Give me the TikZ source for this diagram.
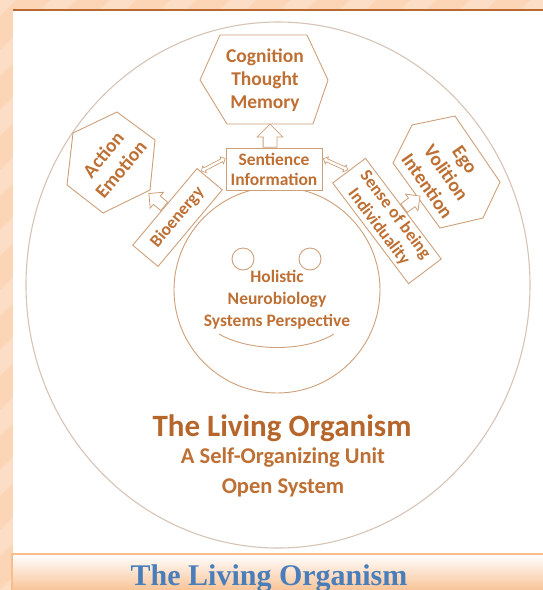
\documentclass[tikz,border=0pt]{standalone}
\usepackage{fontspec}
\setmainfont{Carlito}
\newfontfamily\capfont{Liberation Serif}
\usetikzlibrary{shapes.arrows,calc}

\definecolor{peach}{RGB}{251,213,181}
\definecolor{peachdeep}{RGB}{249,196,152}
\definecolor{peachline}{RGB}{250,190,140}
\definecolor{rulebrown}{RGB}{184,104,48}
\definecolor{ink}{RGB}{190,112,52}
\definecolor{inkdark}{RGB}{182,102,42}
\definecolor{edge}{RGB}{206,160,122}
\definecolor{rim}{RGB}{214,196,184}
\definecolor{capblue}{RGB}{74,126,187}

\begin{document}
\begin{tikzpicture}[x=1pt,y=-1pt,
  shapeline/.style={draw=edge, line width=0.9pt},
  inktext/.style={text=ink, inner sep=0pt, align=center},
  hexlbl/.style={inktext, font=\bfseries\fontsize{19.5}{23}\selectfont},
  boxlbl/.style={draw=edge, line width=0.9pt, fill=white, text=ink, align=center,
    inner sep=0pt, font=\bfseries\fontsize{17.5}{20}\selectfont},
  blockarrow/.style={single arrow, draw=edge, fill=white, line width=0.8pt,
    inner sep=0pt, text height=#1, text depth=0pt,
    single arrow head extend=6pt, single arrow head indent=0pt},
  dblarrow/.style={double arrow, draw=edge, fill=white, line width=0.7pt,
    inner sep=0pt, text height=2.6pt, text depth=0pt,
    double arrow head extend=2.2pt, minimum height=27pt}
]
\useasboundingbox (0,0) rectangle (543,590);

% page background with faint diagonal bands
\fill[peach] (0,0) rectangle (543,590);
\begin{scope}
  \clip (0,0) rectangle (543,590);
  \foreach \k in {-600,-540,...,600}
    \fill[white, opacity=0.22] (\k,590) -- ++(26,0) -- ++(590,-590) -- ++(-26,0) -- cycle;
\end{scope}

% white sheet and its top rule
\fill[white] (13,10) rectangle (543,553);
\draw[rulebrown, line width=1.6pt] (13,10) -- (543,10);

% caption bar
\shade[top color=white, bottom color=peachdeep] (13,554) rectangle (543,590);
\draw[peachline, line width=2pt] (12,590) -- (12,554) -- (543,554);
\node[anchor=base, text=capblue, inner sep=0pt,
  font=\capfont\bfseries\fontsize{30}{34}\selectfont] (caption) at (269,585) {The Living Organism};

% organism boundary
\draw[rim, line width=1.1pt] (278,285) ellipse [x radius=252, y radius=263];

% the face in the middle
\draw[shapeline] (277,290) circle [radius=103];
\draw[shapeline] (243,259) circle [radius=11];
\draw[shapeline] (310,259) circle [radius=11];
\draw[shapeline] (219,334) .. controls (250,352) and (305,352) .. (334,334);
\node[inktext, font=\bfseries\fontsize{17.5}{22}\selectfont] (core) at (277,300)
  {Holistic\\Neurobiology\\Systems Perspective};

% hexagons
\draw[shapeline] (220,35) -- (307,35) -- (328,80) -- (313,124) -- (227,124) -- (200,80) -- cycle;
\node[hexlbl] (cog) at (265,80) {Cognition\\Thought\\Memory};

\draw[shapeline] (73,133) -- (117,112) -- (155,140) -- (150,190) -- (103,213) -- (67,185) -- cycle;
\node[hexlbl, rotate=50] (act) at (112,162) {Action\\Emotion};

\draw[shapeline] (412,125) -- (455,116) -- (500,182) -- (483,218) -- (440,228) -- (393,163) -- cycle;
\node[hexlbl, rotate=-55] (ego) at (446,173) {Ego\\Volition\\Intention};

% boxes
\node[boxlbl, minimum width=96pt, minimum height=42pt] (sent) at (274,169) {Sentience\\Information};
\node[boxlbl, rotate=50, minimum width=100pt, minimum height=33pt] (bio) at (177.5,217.5) {Bioenergy};
\node[boxlbl, rotate=-53, minimum width=126pt, minimum height=41pt,
  font=\bfseries\fontsize{17.5}{20.5}\selectfont] (sense) at (387,221) {Sense of being\\Individuality};

% block arrows towards the hexagons
\node[blockarrow=13pt, rotate=90, anchor=tail, minimum height=23pt] (upcog) at ($(sent.north)+(-4,0)$) {};
\node[blockarrow=10pt, rotate=140, anchor=tail, minimum height=20pt,
  single arrow head extend=5pt] (upact) at (bio.north) {};
\node[blockarrow=10pt, rotate=37, anchor=tail, minimum height=20pt,
  single arrow head extend=5pt] (upego) at (sense.north) {};

% two-way links from the sentience box
\path ($(bio.north east)!0.3!(bio.east)$) -- ($(sent.north west)!0.25!(sent.south west)$)
  node[midway, sloped, dblarrow] (linkbio) {};
\path ($(sent.north east)!0.25!(sent.south east)$) -- (sense.west)
  node[midway, sloped, dblarrow] (linksense) {};

% heading
\node[anchor=base, text=inkdark, inner sep=0pt, font=\bfseries\fontsize{31}{36}\selectfont]
  (title) at (282,436) {The Living Organism};
\node[anchor=base, text=ink, inner sep=0pt, font=\bfseries\fontsize{22.5}{26}\selectfont]
  (sub1) at (283,463) {A Self-Organizing Unit};
\node[anchor=base, text=ink, inner sep=0pt, font=\bfseries\fontsize{22.5}{26}\selectfont]
  (sub2) at (283,493) {Open System};
\end{tikzpicture}
\end{document}
